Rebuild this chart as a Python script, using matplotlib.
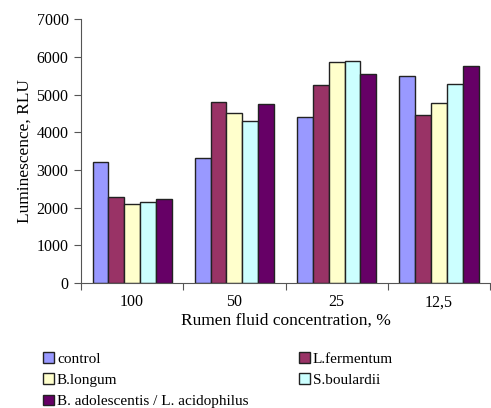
import numpy as np
import matplotlib
matplotlib.use("Agg")
import matplotlib.pyplot as plt

# categories and series
categories = ["100", "50", "25", "12,5"]
series_names = ["control", "L.fermentum", "B.longum", "S.boulardii",
                "B. adolescentis / L. acidophilus"]
control = [3200, 3310, 4400, 5480]
l_fermentum = [2280, 4800, 5250, 4460]
b_longum = [2100, 4510, 5860, 4770]
s_boulardii = [2140, 4300, 5900, 5270]
b_adolescentis = [2230, 4750, 5540, 5750]
colors = ["#9999FF", "#993366", "#FFFFCC", "#CCFFFF", "#660066"]

plt.rcParams['font.family'] = ['Liberation Serif', 'DejaVu Serif']

fig = plt.figure(figsize=(4.91, 4.08), dpi=100)
ax = fig.add_axes([0.165, 0.306, 0.833, 0.647])

all_series = [control, l_fermentum, b_longum, s_boulardii, b_adolescentis]
x = np.arange(len(categories))
w = 0.155
handles = []
for i, vals in enumerate(all_series):
    b = ax.bar(x + (i - 2) * w, vals, w, color=colors[i], edgecolor="#222222",
               linewidth=1.0, label=series_names[i])
    handles.append(b)

ax.set_xlim(-0.5, len(categories) - 0.5)
ax.set_ylim(0, 7000)
ax.set_yticks(np.arange(0, 7001, 1000))
ax.tick_params(axis='y', labelsize=11.5, length=5, width=0.8, color="#555555", pad=4)

# boundary ticks (major, no labels) and centred labels (minor)
ax.set_xticks(np.arange(-0.5, len(categories), 1.0))
ax.set_xticklabels([])
ax.set_xticks(x, minor=True)
ax.set_xticklabels(categories, minor=True)
ax.tick_params(axis='x', which='major', length=5, width=0.8, color="#555555")
ax.tick_params(axis='x', which='minor', length=0, labelsize=11.5, pad=8)

for s in ["top", "right"]:
    ax.spines[s].set_visible(False)
for s in ["left", "bottom"]:
    ax.spines[s].set_color("#555555")
    ax.spines[s].set_linewidth(0.8)

ax.set_ylabel("Luminescence, RLU", fontsize=12.5, labelpad=3)
ax.set_xlabel("Rumen fluid concentration, %", fontsize=12.5, labelpad=2)

# legend, filled column-wise so reorder handles
order = [0, 2, 4, 1, 3]
fig.legend([handles[i] for i in order], [series_names[i] for i in order],
           ncol=2, loc="upper left", bbox_to_anchor=(0.088, 0.137),
           frameon=False, fontsize=11, handlelength=0.7, handleheight=0.7,
           handletextpad=0.2, columnspacing=3.3, labelspacing=0.5,
           borderaxespad=0, borderpad=0)

fig.savefig("out.png", dpi=100)
